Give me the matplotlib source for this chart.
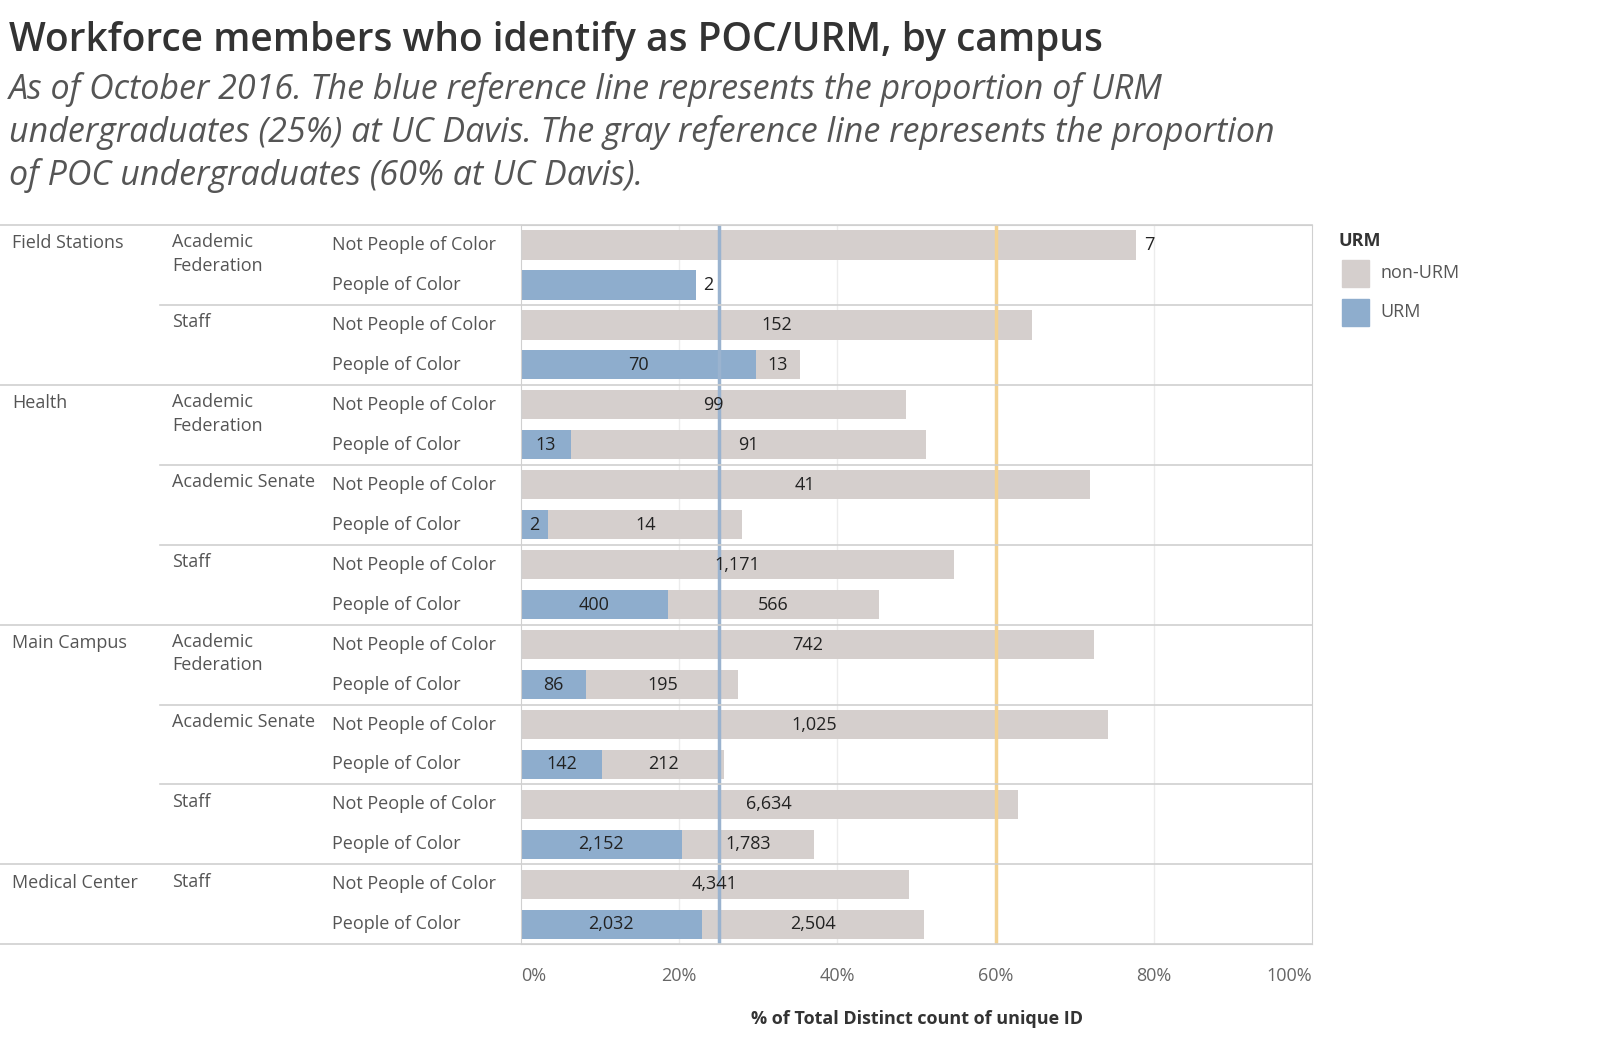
import matplotlib.pyplot as plt
from matplotlib.patches import Rectangle

plt.rcParams['font.family'] = 'Open Sans'

# (campus, type) groups, two rows each
groups = [('Field Stations', 'Academic\nFederation'), ('Field Stations', 'Staff'),
          ('Health', 'Academic\nFederation'), ('Health', 'Academic Senate'), ('Health', 'Staff'),
          ('Main Campus', 'Academic\nFederation'), ('Main Campus', 'Academic Senate'), ('Main Campus', 'Staff'),
          ('Medical Center', 'Staff')]
poc = ['Not People of Color', 'People of Color']

# percent of total, per row (18 rows, top to bottom)
urm_pct = [0, 22.1, 0, 29.7, 0, 6.3, 0, 3.5, 0, 18.6, 0, 8.3, 0, 10.3, 0, 20.4, 0, 22.9]
non_pct = [77.7, 0, 64.6, 5.6, 48.7, 44.9, 71.9, 24.5, 54.7, 26.6, 72.4, 19.2, 74.2, 15.4, 62.8, 16.7, 49.0, 28.0]
urm_cnt = ['', '2', '', '70', '', '13', '', '2', '', '400', '', '86', '', '142', '', '2,152', '', '2,032']
non_cnt = ['7', '', '152', '13', '99', '91', '41', '14', '1,171', '566', '742', '195', '1,025', '212',
           '6,634', '1,783', '4,341', '2,504']
outside = [0, 1]  # rows whose label sits after the bar

W, H = 1616, 1040
S = 1.031  # reference pixel scale
fig = plt.figure(figsize=(W / 100, H / 100), dpi=100)
L, R, T, B = 505 * S, 1273 * S, 218 * S, 916 * S
ax = fig.add_axes([L / W, 1 - B / H, (R - L) / W, (B - T) / H])
n = len(urm_pct)
ax.set_xlim(0, 100)
ax.set_ylim(n, 0)

fs = 13
c_non, c_urm = '#d5cfcd', '#8eadcd'
for x in [20, 40, 60, 80]:
    ax.axvline(x, color='#ececec', lw=1, zorder=0)
for i in range(n):
    y = i + 0.5
    ax.barh(y, urm_pct[i], height=0.74, color=c_urm, zorder=2)
    ax.barh(y, non_pct[i], left=urm_pct[i], height=0.74, color=c_non, zorder=2)
    if i in outside:
        tot = urm_pct[i] + non_pct[i]
        ax.text(tot + 1, y, urm_cnt[i] or non_cnt[i], va='center', ha='left', fontsize=fs, color='#222', zorder=4)
    else:
        if urm_cnt[i]:
            ax.text(urm_pct[i] / 2, y, urm_cnt[i], va='center', ha='center', fontsize=fs, color='#222', zorder=4)
        if non_cnt[i]:
            ax.text(urm_pct[i] + non_pct[i] / 2, y, non_cnt[i], va='center', ha='center', fontsize=fs, color='#222', zorder=4)
ax.axvline(25, color='#9ab3cf', lw=2.5, zorder=3)
ax.axvline(60, color='#f3d292', lw=2.5, zorder=3)

ax.set_xticks([0, 20, 40, 60, 80, 100])
ax.set_xticklabels(['0%', '20%', '40%', '60%', '80%', '100%'], fontsize=fs, color='#666')
for lab, ha in zip(ax.get_xticklabels(), ['left', 'center', 'center', 'center', 'center', 'right']):
    lab.set_ha(ha)
ax.tick_params(axis='x', length=0, pad=16)
ax.set_yticks([])
for s in ax.spines.values():
    s.set_color('#d0d0d0')
ax.set_xlabel('% of Total Distinct count of unique ID', fontsize=fs, color='#333',
              fontweight='bold', labelpad=18)

# left table
def fx(px):
    return px * S / W
def fy(py):
    return 1 - py * S / H
rh = (916 - 218) / n
gray = '#555555'
prev_c = None
for g, (c, t) in enumerate(groups):
    ytop = 218 + g * 2 * rh
    if c != prev_c:
        fig.text(fx(12), fy(ytop + 9), c, fontsize=fs, color=gray, va='top')
        if g > 0:
            fig.add_artist(plt.Line2D([0, fx(1273)], [fy(ytop)] * 2, color='#d0d0d0', lw=1.2))
    else:
        fig.add_artist(plt.Line2D([fx(155), fx(1273)], [fy(ytop)] * 2, color='#d0d0d0', lw=1.2))
    prev_c = c
    fig.text(fx(167), fy(ytop + 8), t, fontsize=fs, color=gray, va='top', linespacing=1.4)
    for k in range(2):
        fig.text(fx(322), fy(ytop + (k + 0.5) * rh), poc[k], fontsize=fs, color=gray, va='center')
for yy in (218, 916):
    fig.add_artist(plt.Line2D([0, fx(1273)], [fy(yy)] * 2, color='#d0d0d0', lw=1.2))

# titles
fig.text(fx(9), fy(40), 'Workforce members who identify as POC/URM, by campus', fontsize=28,
         color='#333333', va='center', fontweight='semibold')
fig.text(fx(9), fy(70), 'As of October 2016. The blue reference line represents the proportion of URM\n'
         'undergraduates (25%) at UC Davis. The gray reference line represents the proportion\n'
         'of POC undergraduates (60% at UC Davis).', fontsize=24.5, color='#555555', style='italic',
         va='top', linespacing=1.3)
fig.text(fx(1298), fy(234), 'URM', fontsize=fs, color='#333', fontweight='bold', va='center')
for k, (lab, col) in enumerate([('non-URM', c_non), ('URM', c_urm)]):
    yc = 265 + k * 38
    fig.add_artist(Rectangle((fx(1302), fy(yc + 13)), 26 * S / W, 26 * S / H, color=col,
                             transform=fig.transFigure))
    fig.text(fx(1339), fy(yc), lab, fontsize=fs, color=gray, va='center')

fig.savefig('out.png', dpi=100)
